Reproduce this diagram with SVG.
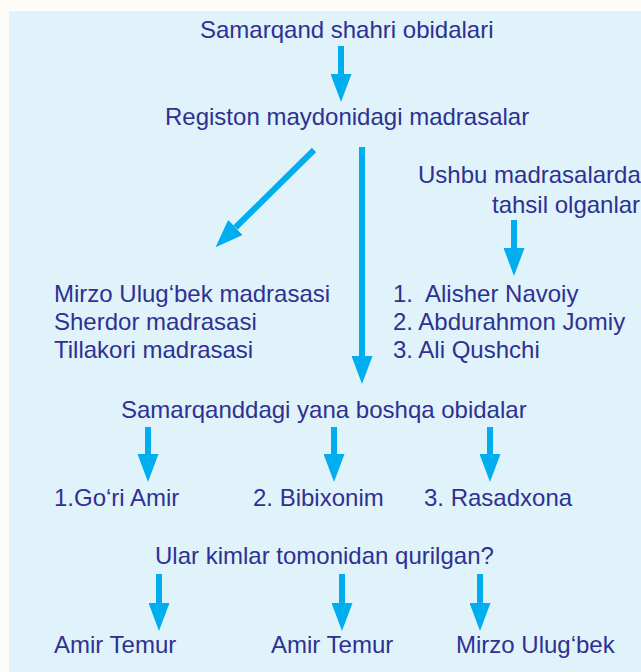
<svg xmlns="http://www.w3.org/2000/svg" width="641" height="672" viewBox="0 0 641 672">
  <style>
    .t { font-family: "Liberation Sans", Arial, sans-serif; font-size: 24px; fill: #2e3192; white-space: pre; }
    .shaft { stroke: #00aeef; stroke-width: 6; fill: none; marker-end: url(#head); }
  </style>
  <defs>
    <marker id="head" markerUnits="userSpaceOnUse" viewBox="0 0 28 21" markerWidth="28" markerHeight="21" refX="0" refY="10.5" orient="auto">
      <path d="M0,0 L28,10.5 L0,21 Z" fill="#00aeef"/>
    </marker>
  </defs>

  <!-- page and panel -->
  <rect x="0" y="0" width="641" height="672" fill="#fefcf8"/>
  <rect x="9" y="11" width="632" height="661" fill="#e0f3fb"/>

  <!-- connectors -->
  <g id="connectors">
    <line class="shaft" x1="341" y1="46" x2="341" y2="74"/>
    <line class="shaft" x1="314" y1="150" x2="235.5" y2="227.5"/>
    <line class="shaft" x1="362" y1="147" x2="362" y2="356"/>
    <line class="shaft" x1="514" y1="220" x2="514" y2="248"/>
    <line class="shaft" x1="148" y1="427" x2="148" y2="454"/>
    <line class="shaft" x1="334" y1="427" x2="334" y2="454"/>
    <line class="shaft" x1="490" y1="427" x2="490" y2="454"/>
    <line class="shaft" x1="159" y1="574" x2="159" y2="603"/>
    <line class="shaft" x1="342" y1="574" x2="342" y2="603"/>
    <line class="shaft" x1="480" y1="574" x2="480" y2="603"/>
  </g>

  <!-- nodes -->
  <g id="title"><text class="t" x="200" y="38">Samarqand shahri obidalari</text></g>
  <g id="registon"><text class="t" x="165" y="125">Registon maydonidagi madrasalar</text></g>
  <g id="students-heading">
    <text class="t" x="418" y="183">Ushbu madrasalarda</text>
    <text class="t" x="492" y="213">tahsil olganlar</text>
  </g>
  <g id="madrasas">
    <text class="t" x="54" y="302">Mirzo Ulug‘bek madrasasi</text>
    <text class="t" x="54" y="330">Sherdor madrasasi</text>
    <text class="t" x="54" y="358">Tillakori madrasasi</text>
  </g>
  <g id="students">
    <text class="t" x="393" y="302">1.  Alisher Navoiy</text>
    <text class="t" x="393" y="330">2. Abdurahmon Jomiy</text>
    <text class="t" x="393" y="358">3. Ali Qushchi</text>
  </g>
  <g id="other-sites"><text class="t" x="121" y="418">Samarqanddagi yana boshqa obidalar</text></g>
  <g id="gori-amir"><text class="t" x="54" y="506">1.Go‘ri Amir</text></g>
  <g id="bibixonim"><text class="t" x="253" y="506">2. Bibixonim</text></g>
  <g id="rasadxona"><text class="t" x="424" y="506">3. Rasadxona</text></g>
  <g id="question"><text class="t" x="155" y="564">Ular kimlar tomonidan qurilgan?</text></g>
  <g id="builder-1"><text class="t" x="54" y="653">Amir Temur</text></g>
  <g id="builder-2"><text class="t" x="271" y="653">Amir Temur</text></g>
  <g id="builder-3"><text class="t" x="456" y="653">Mirzo Ulug‘bek</text></g>
</svg>
